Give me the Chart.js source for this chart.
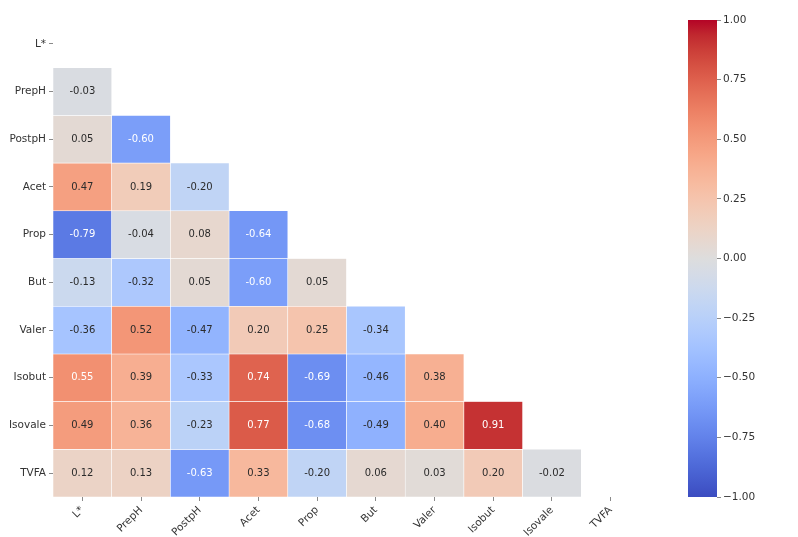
<!DOCTYPE html>
<html>
<head>
<meta charset="utf-8">
<script src="https://cdn.jsdelivr.net/npm/chart.js@4.4.0/dist/chart.umd.min.js"></script>
<style>
  html, body { margin: 0; padding: 0; background: #ffffff; }
  #wrap { position: relative; width: 798px; height: 537px; }
  #main { position: absolute; left: 0; top: 0; }
  #cbar { position: absolute; left: 640px; top: 0; }
</style>
</head>
<body>
<div id="wrap">
  <canvas id="main" width="660" height="537"></canvas>
  <canvas id="cbar" width="158" height="537"></canvas>
</div>
<script>
// ---------------- DATA ----------------
const variables = ['L*', 'PrepH', 'PostpH', 'Acet', 'Prop', 'But', 'Valer', 'Isobut', 'Isovale', 'TVFA'];
// lower-triangle correlations, one array per row (columns L* .. previous variable)
const corrLstar   = [];
const corrPrepH   = [-0.03];
const corrPostpH  = [0.05, -0.60];
const corrAcet    = [0.47, 0.19, -0.20];
const corrProp    = [-0.79, -0.04, 0.08, -0.64];
const corrBut     = [-0.13, -0.32, 0.05, -0.60, 0.05];
const corrValer   = [-0.36, 0.52, -0.47, 0.20, 0.25, -0.34];
const corrIsobut  = [0.55, 0.39, -0.33, 0.74, -0.69, -0.46, 0.38];
const corrIsovale = [0.49, 0.36, -0.23, 0.77, -0.68, -0.49, 0.40, 0.91];
const corrTVFA    = [0.12, 0.13, -0.63, 0.33, -0.20, 0.06, 0.03, 0.20, -0.02];
const corrRows = [corrLstar, corrPrepH, corrPostpH, corrAcet, corrProp, corrBut, corrValer, corrIsobut, corrIsovale, corrTVFA];
const colorbarTicks = [1.00, 0.75, 0.50, 0.25, 0.00, -0.25, -0.50, -0.75, -1.00];
const colorRange = [-1, 1];

// ---------------- COLORMAP (coolwarm) ----------------
const coolwarm = [
  [59,76,192],[68,90,204],[77,104,215],[87,117,225],[98,130,234],[108,142,241],[119,154,247],[130,165,251],
  [141,176,254],[152,185,255],[163,194,255],[174,201,253],[184,208,249],[194,213,244],[204,217,238],[213,219,230],
  [221,221,221],[229,216,209],[236,211,197],[241,204,185],[245,196,173],[247,187,160],[247,177,148],[247,166,135],
  [244,154,123],[241,141,111],[236,127,99],[229,112,88],[222,96,77],[213,80,66],[203,62,56],[192,40,47],[180,4,38]
];
function cmapRGB(v) {
  let t = (v - colorRange[0]) / (colorRange[1] - colorRange[0]);
  t = Math.max(0, Math.min(1, t));
  const pos = t * (coolwarm.length - 1);
  const i = Math.min(Math.floor(pos), coolwarm.length - 2);
  const f = pos - i;
  const a = coolwarm[i], b = coolwarm[i + 1];
  return [0, 1, 2].map(k => a[k] + (b[k] - a[k]) * f);
}
function cmap(v) {
  const c = cmapRGB(v);
  return 'rgb(' + c.map(x => Math.round(x)).join(',') + ')';
}
function textColorFor(v) {
  const c = cmapRGB(v).map(x => {
    x = x / 255;
    return x <= 0.03928 ? x / 12.92 : Math.pow((x + 0.055) / 1.055, 2.4);
  });
  const lum = 0.2126 * c[0] + 0.7152 * c[1] + 0.0722 * c[2];
  return lum > 0.408 ? '#2b2b2b' : '#ffffff';
}

// ---------------- DATASETS ----------------
const datasets = corrRows.map((row, i) => ({
  label: variables[i],
  data: row.map((v, j) => ({ x: variables[j], y: [i - 0.5, i + 0.5], v: v })),
  backgroundColor: row.map(v => cmap(v)),
  borderColor: '#ffffff',
  borderWidth: 0.6,
  borderSkipped: false,
  grouped: false,
  barPercentage: 1,
  categoryPercentage: 1
}));

const FONT = '"DejaVu Sans", sans-serif';

const annotatePlugin = {
  id: 'annotate',
  afterDatasetsDraw(chart) {
    const ctx = chart.ctx;
    ctx.save();
    ctx.font = '10px ' + FONT;
    ctx.textAlign = 'center';
    ctx.textBaseline = 'middle';
    chart.data.datasets.forEach((ds, di) => {
      const meta = chart.getDatasetMeta(di);
      meta.data.forEach((el, k) => {
        const v = ds.data[k].v;
        const p = el.getCenterPoint();
        ctx.fillStyle = textColorFor(v);
        ctx.fillText((v < 0 ? '-' : '') + Math.abs(v).toFixed(2), p.x, p.y);
      });
    });
    ctx.restore();
  }
};

new Chart(document.getElementById('main'), {
  type: 'bar',
  data: { labels: variables, datasets: datasets },
  options: {
    responsive: false,
    animation: false,
    layout: { padding: { top: 20, right: 20, left: 0, bottom: 0 } },
    plugins: { legend: { display: false }, tooltip: { enabled: false } },
    scales: {
      x: {
        type: 'category',
        offset: true,
        grid: { display: true, drawOnChartArea: false, drawTicks: true, tickLength: 4, color: '#8a8a8a', offset: false },
        border: { display: false },
        ticks: { maxRotation: 45, minRotation: 45, autoSkip: false, color: '#333333', font: { family: FONT, size: 10.5 }, padding: 3 },
        afterFit(scale) { scale.height = 40; }
      },
      y: {
        type: 'linear',
        min: -0.5,
        max: 9.5,
        reverse: true,
        grid: { display: true, drawOnChartArea: false, drawTicks: true, tickLength: 4, color: '#8a8a8a' },
        border: { display: false },
        afterBuildTicks(scale) { scale.ticks = variables.map((_, i) => ({ value: i })); },
        ticks: {
          autoSkip: false,
          color: '#333333',
          font: { family: FONT, size: 10.5 },
          padding: 3,
          callback: (val) => variables[val]
        },
        afterFit(scale) { scale.width = 53; }
      }
    }
  },
  plugins: [annotatePlugin]
});

// ---------------- COLORBAR ----------------
new Chart(document.getElementById('cbar'), {
  type: 'bar',
  data: {
    labels: ['cbar'],
    datasets: [{
      data: [colorRange],
      borderWidth: 0,
      barPercentage: 1,
      categoryPercentage: 1,
      backgroundColor(context) {
        const chart = context.chart;
        const ys = chart.scales && chart.scales.y;
        if (!chart.chartArea || !ys) return cmap(0);
        const g = chart.ctx.createLinearGradient(0, ys.getPixelForValue(colorRange[0]), 0, ys.getPixelForValue(colorRange[1]));
        coolwarm.forEach((c, i) => g.addColorStop(i / (coolwarm.length - 1), 'rgb(' + c.join(',') + ')'));
        return g;
      }
    }]
  },
  options: {
    responsive: false,
    animation: false,
    layout: { padding: { top: 20, bottom: 40, left: 48, right: 0 } },
    plugins: { legend: { display: false }, tooltip: { enabled: false } },
    scales: {
      x: { display: false },
      y: {
        position: 'right',
        min: colorRange[0],
        max: colorRange[1],
        grid: { display: true, drawOnChartArea: false, drawTicks: true, tickLength: 4, color: '#8a8a8a' },
        border: { display: false },
        afterBuildTicks(scale) { scale.ticks = colorbarTicks.map(v => ({ value: v })); },
        ticks: {
          color: '#333333',
          font: { family: FONT, size: 10.5 },
          padding: 2,
          callback: (v) => (v < 0 ? '\u2212' : '') + Math.abs(v).toFixed(2)
        },
        afterFit(scale) { scale.width = 81; }
      }
    }
  }
});
</script>
</body>
</html>
